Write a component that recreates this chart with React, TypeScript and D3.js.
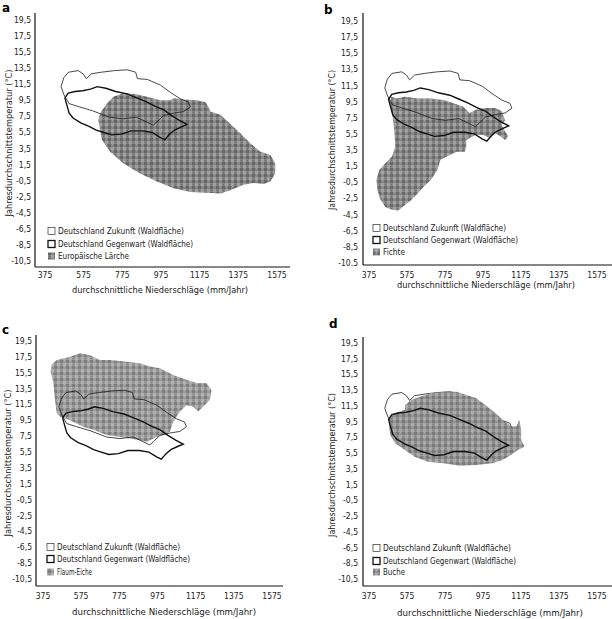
import React from "react";
import * as d3 from "d3";

// ---------- data ----------
const xTicks = [375, 575, 775, 975, 1175, 1375, 1575];
const yTicks = [19.5, 17.5, 15.5, 13.5, 11.5, 9.5, 7.5, 5.5, 3.5, 1.5, -0.5, -2.5, -4.5, -6.5, -8.5, -10.5];
const yTickLabels = ["19,5", "17,5", "15,5", "13,5", "11,5", "9,5", "7,5", "5,5", "3,5", "1,5", "-0,5", "-2,5", "-4,5", "-6,5", "-8,5", "-10,5"];
const yTickLabelsB = ["19,5", "17,5", "15,5", "13,5", "11,5", "9,5", "7,5", "5,5", "3,5", "1,5", "-0,5", "-2,5", "-4,5", "-6,5", "-8,5", "-10.5"];

const legendZukunft = "Deutschland Zukunft (Waldfläche)";
const legendGegenwart = "Deutschland Gegenwart (Waldfläche)";
const xTitle = "durchschnittliche Niederschläge  (mm/Jahr)";
const yTitle = "Jahresdurchschnittstemperatur (°C)";
const speciesNames = ["Europäische Lärche", "Fichte", "Flaum-Eiche", "Buche"];

// [precipitation mm/year, temperature °C]
const zukunft: [number, number][] = [
  [458, 11.2], [472, 12.3], [496, 13.0], [547, 13.2], [572, 12.8], [589, 12.2], [615, 12.8],
  [666, 13.0], [734, 13.2], [802, 13.3], [844, 13.0], [853, 12.2], [904, 12.1], [972, 11.4],
  [1023, 10.5], [1074, 9.7], [1116, 9.3], [1127, 8.7], [1092, 8.1], [1040, 7.9], [988, 7.6],
  [953, 6.8], [935, 6.4], [900, 6.8], [848, 7.4], [778, 7.2], [708, 7.4], [621, 8.2],
  [551, 8.7], [499, 9.1], [473, 10.2],
];

const gegenwart: [number, number][] = [
  [478, 9.8], [495, 10.4], [530, 10.6], [570, 10.7], [610, 10.9], [645, 11.2], [690, 11.0],
  [740, 10.6], [800, 10.3], [850, 9.8], [900, 9.3], [940, 8.8], [990, 8.3], [1030, 7.6],
  [1070, 7.0], [1110, 6.5], [1080, 6.2], [1045, 5.8], [1020, 5.3], [995, 4.6], [970, 4.9],
  [930, 5.5], [880, 5.7], [820, 5.7], [770, 5.3], [720, 5.2], [680, 5.5], [640, 5.8],
  [600, 6.3], [560, 6.7], [520, 7.3], [500, 7.9], [488, 8.9],
];

const laerche: [number, number][] = [
  [660, 7.9], [695, 9.1], [729, 9.95], [781, 10.4], [850, 10.25], [902, 9.95], [971, 9.5],
  [1023, 9.5], [1040, 9.75], [1091, 9.6], [1161, 9.5], [1204, 9.3], [1221, 8.7], [1230, 8.1],
  [1282, 7.7], [1333, 6.6], [1385, 5.4], [1437, 4.15], [1489, 3.1], [1541, 2.7], [1566, 1.65],
  [1566, 0.4], [1541, -0.6], [1506, -0.9], [1454, -0.8], [1402, -1.0], [1333, -1.7],
  [1282, -2.1], [1213, -2.0], [1126, -1.9], [1040, -1.45], [954, -0.6], [867, 0.4],
  [781, 1.65], [712, 3.1], [669, 4.6], [660, 5.8], [651, 7.05],
];

const fichte: [number, number][] = [
  [492, 10.1], [521, 9.9], [564, 10.1], [632, 9.9], [700, 9.9], [768, 9.7], [819, 9.3],
  [870, 8.9], [904, 8.1], [938, 8.5], [989, 8.7], [1040, 8.7], [1074, 8.3], [1091, 7.2],
  [1074, 6.6], [1091, 5.8], [1108, 5.2], [1091, 4.75], [1066, 5.2], [1040, 5.6], [1014, 5.0],
  [972, 5.4], [938, 5.4], [887, 4.75], [887, 3.9], [879, 3.3], [836, 3.3], [785, 2.7],
  [751, 2.3], [734, 1.0], [700, -0.2], [666, -1.0], [632, -1.85], [598, -2.7], [564, -3.3],
  [530, -4.0], [496, -3.9], [462, -3.6], [436, -2.7], [419, -1.45], [414, -0.2], [428, 1.0],
  [462, 1.9], [496, 2.7], [513, 3.9], [509, 5.6], [504, 6.8], [496, 8.1], [487, 9.3],
];

const flaumEiche: [number, number][] = [
  [420, 16.5], [447, 17.1], [516, 17.5], [569, 17.95], [621, 17.7], [673, 17.1], [726, 17.1],
  [813, 16.9], [883, 16.7], [935, 16.3], [988, 16.05], [1057, 15.2], [1127, 14.6], [1180, 14.2],
  [1232, 14.2], [1258, 13.3], [1249, 12.05], [1214, 11.2], [1188, 10.6], [1162, 11.2],
  [1127, 11.4], [1092, 10.6], [1057, 9.3], [1040, 8.05], [1005, 7.65], [970, 7.4], [918, 6.8],
  [883, 7.0], [830, 7.2], [778, 7.4], [708, 7.65], [638, 8.3], [586, 8.7], [516, 9.5],
  [464, 9.95], [447, 10.4], [438, 12.05], [429, 14.2], [415, 15.6],
];

const buche: [number, number][] = [
  [564, 11.6], [598, 12.3], [649, 12.7], [700, 13.1], [768, 13.3], [836, 13.3], [887, 12.9],
  [938, 12.5], [989, 11.6], [1040, 10.6], [1091, 9.5], [1125, 8.9], [1150, 8.9], [1167, 9.7],
  [1176, 8.45], [1176, 7.2], [1193, 6.3], [1159, 5.9], [1108, 5.05], [1074, 4.6], [1023, 4.2],
  [938, 4.0], [853, 3.9], [768, 4.2], [683, 4.4], [615, 5.05], [564, 5.9], [513, 6.75],
  [487, 7.8], [479, 9.1], [487, 10.1], [513, 10.6], [564, 11.0],
];

const blobs = [laerche, fichte, flaumEiche, buche];

// ---------- layout ----------
type Panel = {
  letter: string; lx: number; ly: number;
  axisX: number; axisTop: number; axisY: number; axisRight: number;
  x0: number; x1: number; y0: number; y1: number;
  tickX: number; xTickY: number; xTitleX: number; xTitleY: number; xTitleW: number;
  yTitleX: number; yTitleY: number; yTitleW: number;
  legX: number; legRows: number[]; legW: number[];
  labels: string[]; tone: string; zukunftUnder: boolean;
};

const panels: Panel[] = [
  { letter: "a", lx: 2, ly: 12, axisX: 35, axisTop: 13, axisY: 267, axisRight: 290,
    x0: 45, x1: 277, y0: 20, y1: 261, tickX: 31, xTickY: 275, xTitleX: 160, xTitleY: 289, xTitleW: 176,
    yTitleX: 8, yTitleY: 143, yTitleW: 147, legX: 48, legRows: [231, 244, 256], legW: [126, 135, 71],
    labels: yTickLabels, tone: "a", zukunftUnder: false },
  { letter: "b", lx: 324, ly: 14, axisX: 363, axisTop: 13, axisY: 265, axisRight: 612,
    x0: 369, x1: 597, y0: 21, y1: 263, tickX: 358, xTickY: 275, xTitleX: 486, xTitleY: 284, xTitleW: 178,
    yTitleX: 331, yTitleY: 140, yTitleW: 140, legX: 373, legRows: [228, 240, 252], legW: [123, 135, 22],
    labels: yTickLabelsB, tone: "b", zukunftUnder: false },
  { letter: "c", lx: 2, ly: 334, axisX: 36, axisTop: 335, axisY: 586, axisRight: 283,
    x0: 43, x1: 272, y0: 341, y1: 579, tickX: 32, xTickY: 596, xTitleX: 164, xTitleY: 611, xTitleW: 184,
    yTitleX: 7, yTitleY: 463, yTitleW: 147, legX: 47, legRows: [547, 559, 572], legW: [123, 133, 35],
    labels: yTickLabels, tone: "c", zukunftUnder: false },
  { letter: "d", lx: 329, ly: 328, axisX: 363, axisTop: 337, axisY: 586, axisRight: 612,
    x0: 369, x1: 597, y0: 343, y1: 579, tickX: 358, xTickY: 596, xTitleX: 490, xTitleY: 612, xTitleW: 186,
    yTitleX: 331, yTitleY: 465, yTitleW: 144, legX: 373, legRows: [548, 561, 572], legW: [128, 133, 22],
    labels: yTickLabels, tone: "d", zukunftUnder: true },
];

const tones: Record<string, { base: string; dark: string; light: string }> = {
  a: { base: "#848484", dark: "#666666", light: "#a0a0a0" },
  b: { base: "#878787", dark: "#6a6a6a", light: "#a2a2a2" },
  c: { base: "#9a9a9a", dark: "#7e7e7e", light: "#b0b0b0" },
  d: { base: "#939393", dark: "#7a7a7a", light: "#aaaaaa" },
};

const FONT = "'DejaVu Sans Condensed', 'Liberation Sans Narrow', 'DejaVu Sans', sans-serif";

function PanelView({ p, i }: { p: Panel; i: number }) {
  const x = d3.scaleLinear().domain([375, 1575]).range([p.x0, p.x1]);
  const y = d3.scaleLinear().domain([19.5, -10.5]).range([p.y0, p.y1]);
  const line = d3.line<[number, number]>().x((d) => x(d[0])).y((d) => y(d[1])).curve(d3.curveLinearClosed);
  const fillId = `tex-${p.tone}`;
  const blob = <path d={line(blobs[i]) || ""} fill={`url(#${fillId})`} stroke="none" />;
  const zuk = <path d={line(zukunft) || ""} fill="none" stroke="#1a1a1a" strokeWidth={0.8} />;
  const geg = <path d={line(gegenwart) || ""} fill="none" stroke="#111" strokeWidth={1.4} />;
  return (
    <g>
      <text x={p.lx} y={p.ly} fontFamily="'DejaVu Sans', sans-serif" fontWeight="bold" fontSize={12}>{p.letter}</text>
      {p.zukunftUnder ? <>{zuk}{blob}{geg}</> : <>{blob}{zuk}{geg}</>}
      <line x1={p.axisX} x2={p.axisX} y1={p.axisTop} y2={p.axisY} stroke="#111" strokeWidth={1.2} />
      <line x1={p.axisX} x2={p.axisRight} y1={p.axisY} y2={p.axisY} stroke="#111" strokeWidth={1.2} />
      {yTicks.map((v, k) => (
        <text key={k} x={p.tickX} y={y(v)} textAnchor="end" dominantBaseline="central" fontFamily={FONT} fontSize={8.5} fill="#222">{p.labels[k]}</text>
      ))}
      {xTicks.map((v) => (
        <text key={v} x={x(v)} y={p.xTickY} textAnchor="middle" dominantBaseline="central" fontFamily={FONT} fontSize={8.5} fill="#222">{v}</text>
      ))}
      <text x={p.xTitleX} y={p.xTitleY} textAnchor="middle" dominantBaseline="central" fontFamily={FONT} fontSize={9.5} fill="#222" textLength={p.xTitleW} lengthAdjust="spacingAndGlyphs">{xTitle}</text>
      <text transform={`translate(${p.yTitleX},${p.yTitleY}) rotate(-90)`} textAnchor="middle" dominantBaseline="central" fontFamily={FONT} fontSize={9.5} fill="#222" textLength={p.yTitleW} lengthAdjust="spacingAndGlyphs">{yTitle}</text>
      {/* legend */}
      <rect x={p.legX} y={p.legRows[0] - 3.5} width={7} height={7} fill="#fff" stroke="#333" strokeWidth={0.7} />
      <rect x={p.legX} y={p.legRows[1] - 3.5} width={7} height={7} fill="#fff" stroke="#111" strokeWidth={1.3} />
      <rect x={p.legX} y={p.legRows[2] - 3.5} width={7} height={7} fill={`url(#${fillId})`} />
      {[legendZukunft, legendGegenwart, speciesNames[i]].map((t, k) => (
        <text key={k} x={p.legX + 10} y={p.legRows[k]} dominantBaseline="central" fontFamily={FONT} fontSize={8.5} fill="#222" textLength={p.legW[k]} lengthAdjust="spacingAndGlyphs">{t}</text>
      ))}
    </g>
  );
}

export default function App() {
  return (
    <svg width={612} height={619} style={{ position: "absolute", left: 0, top: 0, background: "#fff" }}>
      <defs>
        {Object.entries(tones).map(([k, t]) => (
          <pattern key={k} id={`tex-${k}`} width={6} height={6} patternUnits="userSpaceOnUse">
            <rect width={6} height={6} fill={t.base} />
            <rect x={0} y={0} width={3} height={3} fill={t.dark} />
            <rect x={3} y={3} width={3} height={3} fill={t.light} />
            <rect x={4} y={0} width={1} height={1} fill={t.light} />
            <rect x={1} y={4} width={1} height={1} fill={t.dark} />
          </pattern>
        ))}
      </defs>
      {panels.map((p, i) => <PanelView key={p.letter} p={p} i={i} />)}
    </svg>
  );
}
